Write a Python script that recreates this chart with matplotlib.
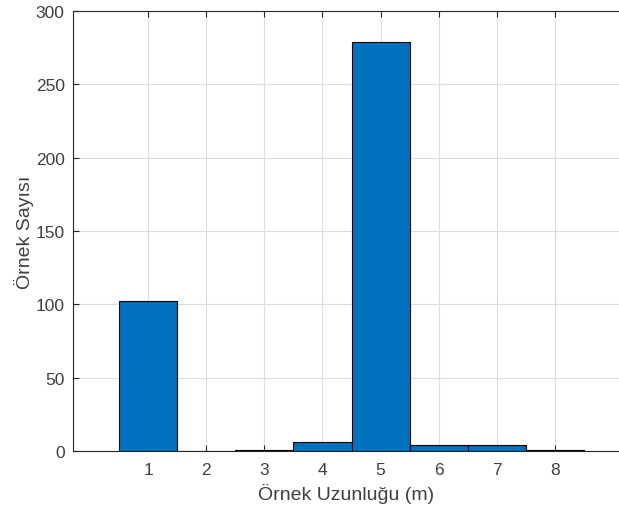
import matplotlib.pyplot as plt
import numpy as np

plt.rcParams['font.family'] = ['Liberation Sans', 'DejaVu Sans']

# histogram counts
lengths = [1, 2, 3, 4, 5, 6, 7, 8]
counts = [102, 0, 1, 6, 279, 4, 4, 1]
yticks = [0, 50, 100, 150, 200, 250, 300]

txt = '#404040'

fig = plt.figure(figsize=(6.19, 5.10), dpi=100)
ax = fig.add_axes([73 / 619, 58 / 510, 1 - 73 / 619, 440 / 510])

ax.bar(lengths, counts, width=1.0, color='#0072BD', edgecolor='black',
       linewidth=0.8, zorder=3)

ax.set_xlim(-0.29, 9.1)
ax.set_ylim(0, 300)
ax.set_xticks(lengths)
ax.set_yticks(yticks)
ax.grid(True, color='#dcdcdc', linewidth=0.8, zorder=0)
ax.set_axisbelow(True)

ax.tick_params(direction='in', length=4, width=0.8, labelsize=12.5,
               colors='#262626', labelcolor=txt, top=True, right=False)
ax.tick_params(axis='x', pad=8)
ax.tick_params(axis='y', pad=6)
for side in ['left', 'bottom', 'top']:
    ax.spines[side].set_color('#262626')
    ax.spines[side].set_linewidth(0.8)
ax.spines['right'].set_visible(False)

ax.set_xlabel('Örnek Uzunluğu (m)', fontsize=14, color=txt, labelpad=4)
ax.set_ylabel('Örnek Sayısı', fontsize=14, color=txt, labelpad=1)

plt.savefig('out.png', dpi=100)
plt.close()
